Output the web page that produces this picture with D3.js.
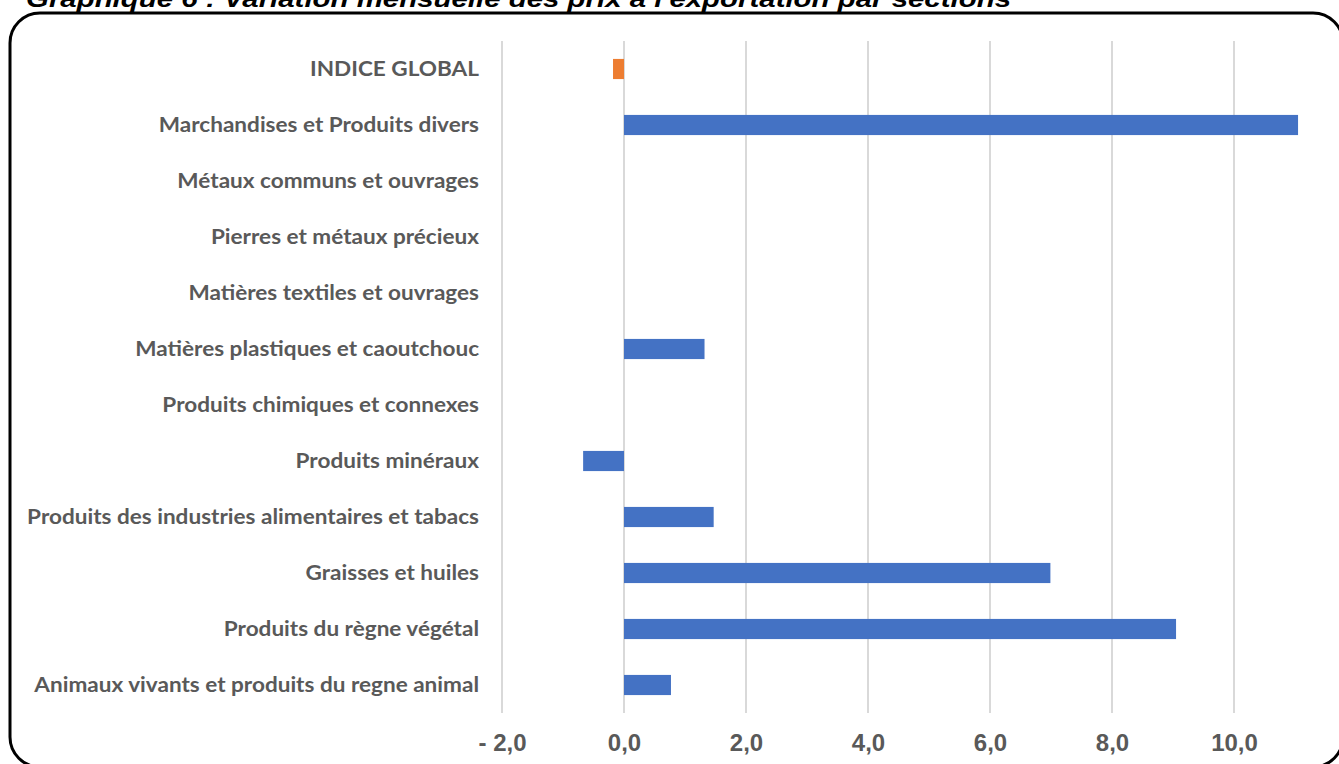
<!DOCTYPE html>
<html>
<head>
<meta charset="utf-8">
<script src="https://cdn.jsdelivr.net/npm/d3@7"></script>
<style>
  html, body { margin: 0; padding: 0; background: #fff; overflow: hidden; }
  svg { display: block; }
</style>
</head>
<body>
<div id="chart-view"></div>
<script>
// Data (top to bottom)
var categories = [
  'INDICE GLOBAL',
  'Marchandises et Produits divers',
  'Métaux communs et ouvrages',
  'Pierres et métaux précieux',
  'Matières textiles et ouvrages',
  'Matières plastiques et caoutchouc',
  'Produits chimiques et connexes',
  'Produits minéraux',
  'Produits des industries alimentaires et tabacs',
  'Graisses et huiles',
  'Produits du règne végétal',
  'Animaux vivants et produits du regne animal'
];
var values = [-0.18, 11.05, 0, 0, 0, 1.32, 0, -0.67, 1.47, 6.99, 9.05, 0.77];
var tickValues = [-2, 0, 2, 4, 6, 8, 10];
var tickLabels = ['- 2,0', '0,0', '2,0', '4,0', '6,0', '8,0', '10,0'];
var titleText = "Graphique 6 : Variation mensuelle des prix à l'exportation par sections";

// All our functions will be stored in APP.
APP = {};

APP.main = function(){
  var W = 1339, H = 764;
  var svg = d3.select('#chart-view').append('svg')
      .attr('width', W).attr('height', H);

  // frame + title (title is cut at the top in the original)
  svg.append('rect')
      .attr('x', 10).attr('y', 13)
      .attr('width', 1333).attr('height', 754)
      .attr('rx', 30).attr('ry', 30)
      .attr('fill', 'none').attr('stroke', '#000').attr('stroke-width', 3);

  svg.append('text')
      .attr('x', 26).attr('y', 7)
      .attr('font-family', 'Liberation Sans, Arial, sans-serif')
      .attr('font-weight', 'bold').attr('font-style', 'italic')
      .attr('font-size', 24)
      .attr('textLength', 985).attr('lengthAdjust', 'spacingAndGlyphs')
      .text(titleText);

  var x = d3.scaleLinear().domain([-2, 12]).range([502, 1356]);
  var y = d3.scaleBand().domain(categories).range([41, 713]).paddingInner(0.64).paddingOuter(0.32);

  // vertical gridlines
  svg.append('g').selectAll('line')
      .data(tickValues).enter().append('line')
      .attr('x1', function(d){ return x(d); })
      .attr('x2', function(d){ return x(d); })
      .attr('y1', 41).attr('y2', 713)
      .attr('stroke', '#d9d9d9').attr('stroke-width', 2);

  // bars
  svg.append('g').selectAll('rect')
      .data(values).enter().append('rect')
      .attr('x', function(d){ return x(Math.min(0, d)); })
      .attr('y', function(d, i){ return y(categories[i]); })
      .attr('width', function(d){ return Math.abs(x(d) - x(0)); })
      .attr('height', y.bandwidth())
      .attr('fill', function(d, i){ return i === 0 ? '#ED7D31' : '#4472C4'; });

  // x axis labels
  var xAxis = d3.axisBottom(x).tickValues(tickValues).tickSize(0).tickPadding(0)
      .tickFormat(function(d, i){ return tickLabels[i]; });
  var gx = svg.append('g').attr('transform', 'translate(0,751)').call(xAxis);
  gx.select('.domain').remove();
  gx.selectAll('text')
      .attr('dy', 0).attr('y', 0)
      .attr('font-family', 'Liberation Sans, Arial, sans-serif')
      .attr('font-weight', 'bold').attr('font-size', 24)
      .attr('fill', '#595959');

  // category labels (squeezed horizontally to mimic Calibri)
  var yAxis = d3.axisLeft(y).tickSize(0).tickPadding(0);
  var gy = svg.append('g').attr('transform', 'translate(479,0)').call(yAxis);
  gy.select('.domain').remove();
  gy.selectAll('text')
      .attr('font-family', 'Lato, sans-serif')
      .attr('font-weight', 'bold').attr('font-size', 20.5)
      .attr('fill', '#595959');

  var longest = 0;
  gy.selectAll('text').each(function(){
    longest = Math.max(longest, this.getComputedTextLength());
  });
  var sx = 452 / longest;
  gy.selectAll('.tick text').attr('transform', 'scale(' + sx + ',1)');
};

APP.main();
</script>
</body>
</html>
